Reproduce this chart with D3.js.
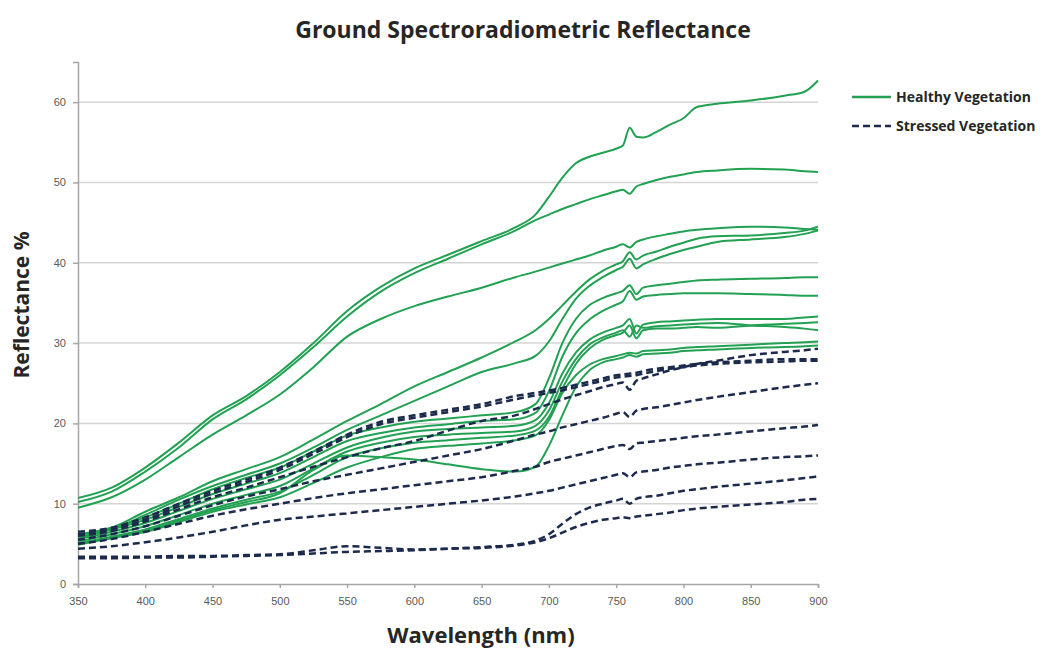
<!DOCTYPE html>
<html>
<head>
<meta charset="utf-8">
<script src="https://cdn.jsdelivr.net/npm/d3@7"></script>
<style>
  body { margin: 0; background: #fff; }
  svg { display: block; font-family: "Open Sans", "Noto Sans", sans-serif; }
  .tick text { fill: #595959; font-size: 11px; }
</style>
</head>
<body>
<div id="chart"></div>
<script>
// Wavelength samples (nm) shared by every spectrum
const wavelengths = [350, 375, 400, 425, 450, 475, 500, 525, 550, 575, 600, 625, 650, 675, 690,
  700, 710, 720, 730, 740, 750, 755, 760, 765, 770, 780, 790, 800, 810, 825, 850, 875, 890, 900];

// Healthy vegetation spectra (reflectance %)
const healthy1 = [10.7, 12.0, 14.5, 17.6, 21.0, 23.4, 26.4, 30.0, 34.0, 37.0, 39.3, 41.0, 42.7, 44.4, 46.0,
  48.2, 50.6, 52.4, 53.2, 53.7, 54.2, 54.6, 56.8, 55.7, 55.6, 56.3, 57.2, 58.0, 59.4, 59.8, 60.2, 60.8, 61.3, 62.7];
const healthy2 = [10.2, 11.5, 14.0, 17.0, 20.5, 23.0, 26.0, 29.5, 33.3, 36.4, 38.7, 40.5, 42.3, 44.0, 45.3,
  46.0, 46.7, 47.3, 47.9, 48.4, 48.9, 49.1, 48.6, 49.5, 49.8, 50.3, 50.7, 51.0, 51.3, 51.5, 51.7, 51.6, 51.4, 51.3];
const healthy3 = [9.5, 10.8, 13.0, 15.8, 18.6, 21.0, 23.6, 27.0, 30.8, 33.0, 34.6, 35.8, 36.9, 38.2, 38.9,
  39.4, 39.9, 40.4, 40.9, 41.5, 42.0, 42.3, 41.9, 42.6, 42.9, 43.3, 43.6, 43.9, 44.1, 44.3, 44.5, 44.4, 44.2, 44.1];
const healthy4 = [6.2, 7.0, 9.0, 10.8, 12.8, 14.3, 15.8, 18.0, 20.3, 22.4, 24.6, 26.4, 28.2, 30.2, 31.6,
  33.0, 34.7, 36.4, 37.9, 39.0, 39.8, 40.2, 41.3, 40.4, 40.9, 41.4, 42.0, 42.5, 43.0, 43.3, 43.4, 43.7, 44.0, 44.5];
const healthy5 = [5.8, 6.8, 8.6, 10.5, 12.2, 13.6, 15.0, 17.0, 19.2, 21.0, 22.8, 24.6, 26.4, 27.5, 28.4,
  30.2, 33.0, 35.5, 37.1, 38.2, 39.1, 39.5, 40.5, 39.3, 39.8, 40.5, 41.1, 41.6, 42.0, 42.6, 42.9, 43.2, 43.6, 44.0];
const healthy6 = [6.0, 7.0, 8.3, 10.0, 11.8, 13.2, 14.5, 16.5, 18.5, 19.5, 20.2, 20.6, 21.0, 21.4, 22.4,
  25.6, 30.0, 33.0, 34.7, 35.6, 36.2, 36.5, 37.2, 36.1, 36.9, 37.2, 37.4, 37.6, 37.8, 37.9, 38.0, 38.1, 38.2, 38.2];
const healthy7 = [5.8, 6.8, 8.0, 9.6, 11.2, 12.5, 13.8, 15.8, 17.8, 18.8, 19.5, 19.9, 20.3, 20.5, 21.3,
  24.0, 28.3, 31.2, 32.9, 34.0, 34.8, 35.2, 36.5, 35.4, 35.8, 36.0, 36.1, 36.2, 36.2, 36.2, 36.1, 36.0, 35.9, 35.9];
const healthy8 = [5.6, 6.5, 7.6, 9.1, 10.6, 11.8, 13.0, 15.0, 17.0, 18.2, 19.0, 19.3, 19.5, 19.7, 20.4,
  22.5, 26.2, 28.8, 30.4, 31.3, 31.9, 32.2, 33.0, 31.2, 32.3, 32.6, 32.7, 32.8, 32.9, 33.0, 33.0, 33.0, 33.2, 33.3];
const healthy9 = [5.3, 6.2, 7.2, 8.6, 10.0, 11.1, 12.2, 14.4, 16.5, 17.6, 18.3, 18.6, 18.8, 19.0, 19.7,
  21.6, 25.2, 28.0, 29.8, 30.7, 31.3, 31.6, 30.8, 32.2, 31.9, 32.1, 32.2, 32.3, 32.4, 32.5, 32.2, 32.0, 31.8, 31.6];
const healthy10 = [5.1, 5.9, 6.8, 8.1, 9.4, 10.5, 11.5, 13.6, 15.8, 16.9, 17.6, 17.9, 18.2, 18.5, 19.1,
  20.8, 24.3, 27.4, 29.3, 30.4, 31.0, 31.3, 32.2, 30.6, 31.6, 31.8, 31.8, 31.9, 32.0, 31.9, 32.2, 32.4, 32.5, 32.6];
const healthy11 = [4.9, 5.7, 6.5, 7.7, 9.0, 9.9, 10.8, 12.6, 14.5, 15.8, 16.8, 17.2, 17.5, 17.9, 18.5,
  20.4, 23.8, 26.0, 27.3, 28.0, 28.4, 28.6, 28.8, 28.7, 29.0, 29.1, 29.2, 29.4, 29.5, 29.6, 29.8, 30.0, 30.1, 30.2];
const healthy12 = [5.0, 5.8, 6.6, 7.9, 9.2, 10.2, 11.3, 14.2, 16.0, 15.8, 15.5, 14.9, 14.3, 14.0, 14.6,
  17.2, 21.0, 24.5, 26.6, 27.6, 28.0, 28.2, 28.5, 28.3, 28.6, 28.7, 28.8, 29.0, 29.1, 29.2, 29.4, 29.5, 29.6, 29.7];

// Stressed vegetation spectra (reflectance %)
const stressed1 = [6.5, 7.0, 8.3, 10.0, 11.6, 13.0, 14.5, 16.5, 18.6, 20.2, 21.0, 21.7, 22.4, 23.4, 23.8,
  24.1, 24.4, 24.8, 25.2, 25.6, 26.0, 26.1, 26.2, 26.3, 26.5, 26.8, 27.0, 27.2, 27.4, 27.6, 27.8, 28.0, 28.0, 28.0];
const stressed2 = [6.2, 6.8, 8.0, 9.7, 11.3, 12.7, 14.2, 16.2, 18.3, 19.9, 20.7, 21.4, 22.1, 23.0, 23.5,
  23.8, 24.1, 24.5, 24.9, 25.3, 25.7, 25.8, 25.9, 26.0, 26.2, 26.5, 26.8, 27.0, 27.2, 27.4, 27.6, 27.7, 27.8, 27.8];
const stressed3 = [6.0, 6.6, 7.8, 9.3, 10.8, 12.0, 13.3, 14.6, 15.8, 16.9, 17.8, 19.1, 20.3, 21.0, 21.8,
  22.4, 23.0, 23.5, 24.0, 24.5, 24.9, 25.1, 24.2, 25.3, 25.6, 26.1, 26.6, 27.0, 27.4, 27.8, 28.5, 28.9, 29.1, 29.3];
const stressed4 = [5.5, 6.2, 7.2, 8.5, 9.8, 10.9, 11.8, 12.8, 13.6, 14.4, 15.2, 16.0, 16.8, 17.9, 18.6,
  19.0, 19.5, 19.9, 20.3, 20.7, 21.2, 21.4, 20.8, 21.6, 21.8, 22.0, 22.3, 22.6, 22.9, 23.3, 23.9, 24.5, 24.8, 25.0];
const stressed5 = [5.0, 5.6, 6.5, 7.5, 8.5, 9.3, 10.0, 10.7, 11.3, 11.8, 12.3, 12.8, 13.3, 14.1, 14.6,
  15.2, 15.6, 16.0, 16.4, 16.8, 17.2, 17.3, 16.8, 17.5, 17.6, 17.8, 18.0, 18.2, 18.4, 18.6, 19.0, 19.4, 19.6, 19.8];
const stressed6 = [4.4, 4.7, 5.2, 5.8, 6.5, 7.3, 8.0, 8.4, 8.8, 9.2, 9.6, 10.0, 10.4, 10.9, 11.3,
  11.6, 12.0, 12.4, 12.8, 13.2, 13.6, 13.8, 13.3, 13.9, 14.0, 14.2, 14.5, 14.7, 14.9, 15.1, 15.5, 15.8, 15.9, 16.0];
const stressed7 = [3.4, 3.4, 3.4, 3.5, 3.5, 3.6, 3.7, 4.2, 4.7, 4.5, 4.3, 4.4, 4.6, 4.9, 5.4,
  6.2, 7.5, 8.7, 9.5, 10.0, 10.4, 10.6, 10.0, 10.6, 10.8, 11.0, 11.3, 11.6, 11.8, 12.1, 12.5, 12.9, 13.2, 13.4];
const stressed8 = [3.2, 3.2, 3.3, 3.3, 3.4, 3.5, 3.6, 3.8, 4.0, 4.1, 4.2, 4.4, 4.5, 4.8, 5.2,
  5.7, 6.4, 7.1, 7.6, 8.0, 8.2, 8.3, 8.2, 8.4, 8.5, 8.7, 8.9, 9.2, 9.4, 9.6, 9.9, 10.2, 10.5, 10.6];

const healthySeries = [healthy1, healthy2, healthy3, healthy4, healthy5, healthy6,
  healthy7, healthy8, healthy9, healthy10, healthy11, healthy12];
const stressedSeries = [stressed1, stressed2, stressed3, stressed4,
  stressed5, stressed6, stressed7, stressed8];

const xTicks = [350, 400, 450, 500, 550, 600, 650, 700, 750, 800, 850, 900];
const yTicks = [0, 10, 20, 30, 40, 50, 60];
const legendLabels = ['Healthy Vegetation', 'Stressed Vegetation'];

const width = 1041;
const height = 650;
const green = '#22a153';
const navy = '#1c2a4c';

const x = d3.scaleLinear().domain([350, 900]).range([78, 818]);
const y = d3.scaleLinear().domain([0, 65]).range([584, 62]);

const svg = d3.select('#chart')
  .append('svg')
  .attr('width', width)
  .attr('height', height);

// Horizontal gridlines
svg.append('g')
  .selectAll('line')
  .data(yTicks.filter(d => d > 0))
  .join('line')
  .attr('x1', x(350))
  .attr('x2', x(900))
  .attr('y1', d => y(d))
  .attr('y2', d => y(d))
  .attr('stroke', '#d4d4d4')
  .attr('stroke-width', 1.5);

// Axes
const yAxis = svg.append('g')
  .attr('transform', 'translate(' + x(350) + ',0)')
  .call(d3.axisLeft(y).tickValues(yTicks).tickSize(5).tickPadding(7));

const xAxis = svg.append('g')
  .attr('transform', 'translate(0,' + y(0) + ')')
  .call(d3.axisBottom(x).tickValues(xTicks).tickSize(4).tickPadding(9));

[yAxis, xAxis].forEach(function (ax) {
  ax.select('.domain').attr('stroke', '#a6a6a6').attr('stroke-width', 1.5);
  ax.selectAll('.tick line').attr('stroke', '#a6a6a6').attr('stroke-width', 1.5);
});

// Spectra
const line = d3.line()
  .x((d, i) => x(wavelengths[i]))
  .y(d => y(d))
  .curve(d3.curveMonotoneX);

svg.append('g')
  .selectAll('path')
  .data(healthySeries)
  .join('path')
  .attr('d', line)
  .attr('fill', 'none')
  .attr('stroke', green)
  .attr('stroke-width', 2);

svg.append('g')
  .selectAll('path')
  .data(stressedSeries)
  .join('path')
  .attr('d', line)
  .attr('fill', 'none')
  .attr('stroke', navy)
  .attr('stroke-width', 2.5)
  .attr('stroke-dasharray', '7,4');

// Titles
svg.append('text')
  .attr('x', 523)
  .attr('y', 38)
  .attr('text-anchor', 'middle')
  .attr('font-size', 23)
  .attr('font-weight', 'bold')
  .attr('fill', '#262626')
  .text('Ground Spectroradiometric Reflectance');

svg.append('text')
  .attr('x', 481)
  .attr('y', 643)
  .attr('text-anchor', 'middle')
  .attr('font-size', 22)
  .attr('font-weight', 'bold')
  .attr('fill', '#262626')
  .text('Wavelength (nm)');

svg.append('text')
  .attr('transform', 'translate(29,305) rotate(-90)')
  .attr('text-anchor', 'middle')
  .attr('font-size', 21)
  .attr('font-weight', 'bold')
  .attr('fill', '#262626')
  .text('Reflectance %');

// Legend
const legend = svg.append('g')
  .selectAll('g')
  .data(legendLabels)
  .join('g')
  .attr('transform', (d, i) => 'translate(852,' + (97 + i * 29) + ')');

legend.append('line')
  .attr('x1', 0)
  .attr('x2', 39)
  .attr('stroke', (d, i) => i === 0 ? green : navy)
  .attr('stroke-width', 2.5)
  .attr('stroke-dasharray', (d, i) => i === 0 ? null : '7,4');

legend.append('text')
  .attr('x', 44)
  .attr('dy', '0.35em')
  .attr('font-size', 14)
  .attr('font-weight', 'bold')
  .attr('fill', '#262626')
  .text(d => d);
</script>
</body>
</html>
